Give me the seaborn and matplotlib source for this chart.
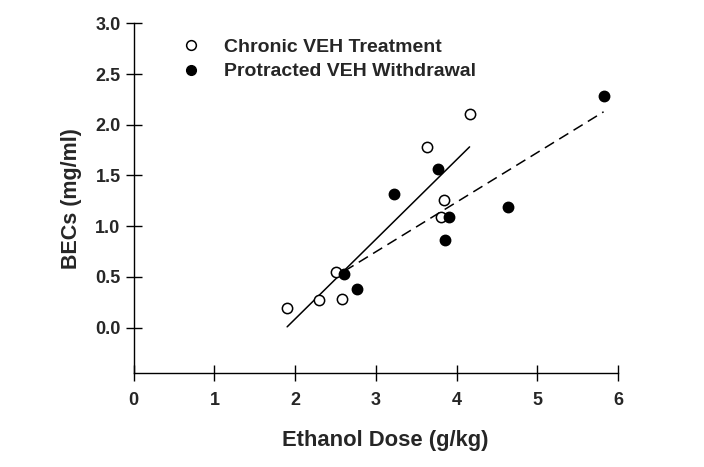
import matplotlib
matplotlib.use('Agg')
import matplotlib.pyplot as plt
import seaborn as sns
import pandas as pd
from matplotlib.lines import Line2D

# values
chronic_dose = [1.90, 2.30, 2.51, 2.58, 3.63, 3.80, 3.84, 4.16]
chronic_bec = [0.19, 0.27, 0.55, 0.28, 1.78, 1.09, 1.26, 2.11]
withdrawal_dose = [2.61, 2.77, 3.22, 3.77, 3.86, 3.91, 4.63, 5.82]
withdrawal_bec = [0.53, 0.375, 1.32, 1.56, 0.86, 1.09, 1.19, 2.28]
x_ticks = [0, 1, 2, 3, 4, 5, 6]
y_ticks = [0.0, 0.5, 1.0, 1.5, 2.0, 2.5, 3.0]

chronic = pd.DataFrame({'dose': chronic_dose, 'bec': chronic_bec})
withdrawal = pd.DataFrame({'dose': withdrawal_dose, 'bec': withdrawal_bec})

sns.set_style('ticks')
plt.rcParams['font.family'] = ['Liberation Sans', 'DejaVu Sans']
plt.rcParams['font.weight'] = 'bold'

fig = plt.figure(figsize=(7.04, 4.67), dpi=100)
ax = fig.add_axes([0.190, 0.201, 0.688, 0.749])

# regression lines (drawn under the points)
sns.regplot(data=chronic, x='dose', y='bec', ax=ax, ci=None, truncate=True,
            scatter=False, line_kws={'color': 'black', 'lw': 1.1, 'zorder': 2})
sns.regplot(data=withdrawal, x='dose', y='bec', ax=ax, ci=None, truncate=True,
            scatter=False, line_kws={'color': 'black', 'lw': 1.1, 'ls': (0, (7, 4)), 'zorder': 2})

sns.scatterplot(data=chronic, x='dose', y='bec', ax=ax, s=55, facecolor='white',
                edgecolor='black', linewidth=1.1, zorder=3)
sns.scatterplot(data=withdrawal, x='dose', y='bec', ax=ax, s=55, color='black',
                edgecolor='black', linewidth=1.1, zorder=3)

ax.set_xlim(0, 6)
ax.set_ylim(-0.45, 3.0)
ax.set_xticks(x_ticks)
ax.set_yticks(y_ticks)
ax.set_xticklabels([str(t) for t in x_ticks])
ax.set_yticklabels([f'{t:.1f}' for t in y_ticks])
ax.tick_params(direction='inout', length=11, width=1, labelsize=13, color='black')
ax.tick_params(axis='x', pad=8)
ax.tick_params(axis='y', pad=4)
for lab in ax.get_xticklabels() + ax.get_yticklabels():
    lab.set_fontweight('bold')

ax.set_xlabel('Ethanol Dose (g/kg)', fontsize=15.8, fontweight='bold')
ax.set_ylabel('BECs (mg/ml)', fontsize=15.5, fontweight='bold')
ax.xaxis.set_label_coords(0.519, -0.163)
ax.yaxis.set_label_coords(-0.106, 0.5)

for side in ['top', 'right']:
    ax.spines[side].set_visible(False)
for side in ['left', 'bottom']:
    ax.spines[side].set_color('black')
    ax.spines[side].set_linewidth(1)

handles = [
    Line2D([], [], marker='o', ls='none', markersize=7, markerfacecolor='white',
           markeredgecolor='black', markeredgewidth=1.1),
    Line2D([], [], marker='o', ls='none', markersize=7, markerfacecolor='black',
           markeredgecolor='black'),
]
ax.legend(handles, ['Chronic VEH Treatment', 'Protracted VEH Withdrawal'],
          loc='upper left', bbox_to_anchor=(0.099, 0.958), frameon=False,
          prop={'size': 14, 'weight': 'bold'}, handlelength=1.0,
          handletextpad=1.2, labelspacing=0.37, borderpad=0, borderaxespad=0)

fig.savefig('out.png', dpi=100)
